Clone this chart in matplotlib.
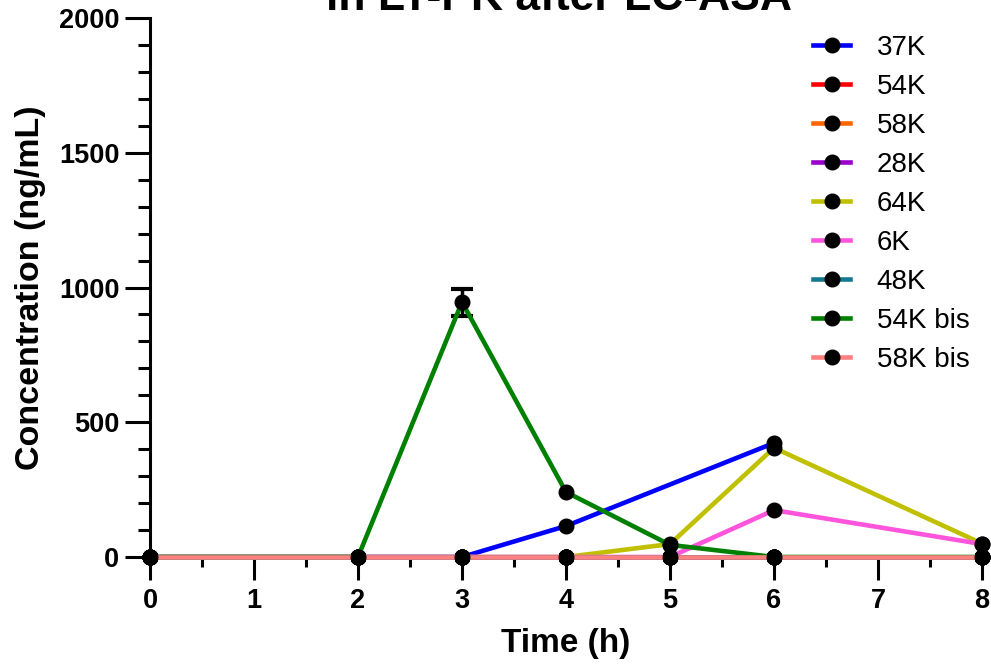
import numpy as np
import matplotlib
matplotlib.use("Agg")
import matplotlib.pyplot as plt
from matplotlib.ticker import MultipleLocator

plt.rcParams['font.family'] = ['Liberation Sans', 'DejaVu Sans']

time = [0, 2, 3, 4, 5, 6, 8]
labels = ["37K", "54K", "58K", "28K", "64K", "6K", "48K", "54K bis", "58K bis"]
colors = ["#0000FF", "#FF0000", "#FF6600", "#9900CC", "#C0C000", "#FF55DD", "#157A90", "#008000", "#FF8080"]
nan = np.nan
values = {
    "37K":     [0, 0, 0, 115, nan, 423, nan],
    "54K":     [0, 0, 0, 0, 0, 0, 0],
    "58K":     [0, 0, 0, 0, 0, 0, 0],
    "28K":     [0, 0, 0, 0, 0, 0, 0],
    "64K":     [0, 0, 0, 0, 48, 405, 50],
    "6K":      [0, 0, 0, 0, 0, 174, 48],
    "48K":     [0, 0, 0, 0, 0, 0, 0],
    "54K bis": [0, 0, 946, 241, 45, 0, 0],
    "58K bis": [0, 0, 0, 0, 0, 0, 0],
}
errors = {
    "54K bis": [0, 0, 50, 0, 0, 0, 0],
}

fig = plt.figure(figsize=(9.91, 6.64), dpi=100)
ax = fig.add_axes([150/991, 1 - 557/664, (982-150)/991, (557-18)/664])

for lab, col in zip(labels, colors):
    y = np.array(values[lab], dtype=float)
    x = np.array(time, dtype=float)
    m = ~np.isnan(y)
    err = errors.get(lab)
    if err is not None:
        e = np.array(err, dtype=float)[m]
        ax.errorbar(x[m], y[m], yerr=np.where(e > 0, e, np.nan), fmt='none', ecolor='black',
                    elinewidth=2.5, capsize=8, capthick=3, clip_on=False, zorder=3)
    ax.plot(x[m], y[m], color=col, lw=3.3, marker='o', ms=10.5, mfc='black', mec='black',
            label=lab, clip_on=False, zorder=3)

ax.set_xlim(0, 8)
ax.set_ylim(0, 2000)
ax.xaxis.set_major_locator(MultipleLocator(1))
ax.xaxis.set_minor_locator(MultipleLocator(0.5))
ax.yaxis.set_major_locator(MultipleLocator(500))
ax.yaxis.set_minor_locator(MultipleLocator(100))
for s in ['top', 'right']:
    ax.spines[s].set_visible(False)
for s in ['left', 'bottom']:
    ax.spines[s].set_linewidth(2.2)
ax.tick_params(axis='both', which='major', direction='out', width=2.2, labelsize=19.5)
ax.tick_params(axis='x', which='major', length=16.5, pad=6)
ax.tick_params(axis='x', which='minor', length=7, width=2.2)
ax.tick_params(axis='y', which='major', length=18, pad=4)
ax.tick_params(axis='y', which='minor', length=9, width=2.2)
for t in ax.get_xticklabels() + ax.get_yticklabels():
    t.set_fontweight('bold')

ax.set_xlabel("Time (h)", fontsize=24, fontweight='bold', labelpad=10)
ax.set_ylabel("Concentration (ng/mL)", fontsize=24.5, fontweight='bold', labelpad=9)

leg = ax.legend(loc='upper right', bbox_to_anchor=(1.005, 1.0), frameon=False, fontsize=20,
                handlelength=1.35, labelspacing=0.47, handletextpad=0.95, borderaxespad=0.2)

fig.text(0.5645, 1 - 10/664, "in LT-PK after LC-ASA", ha='center', va='baseline',
         fontsize=32, fontweight='bold')

fig.savefig("out.png", dpi=100)
